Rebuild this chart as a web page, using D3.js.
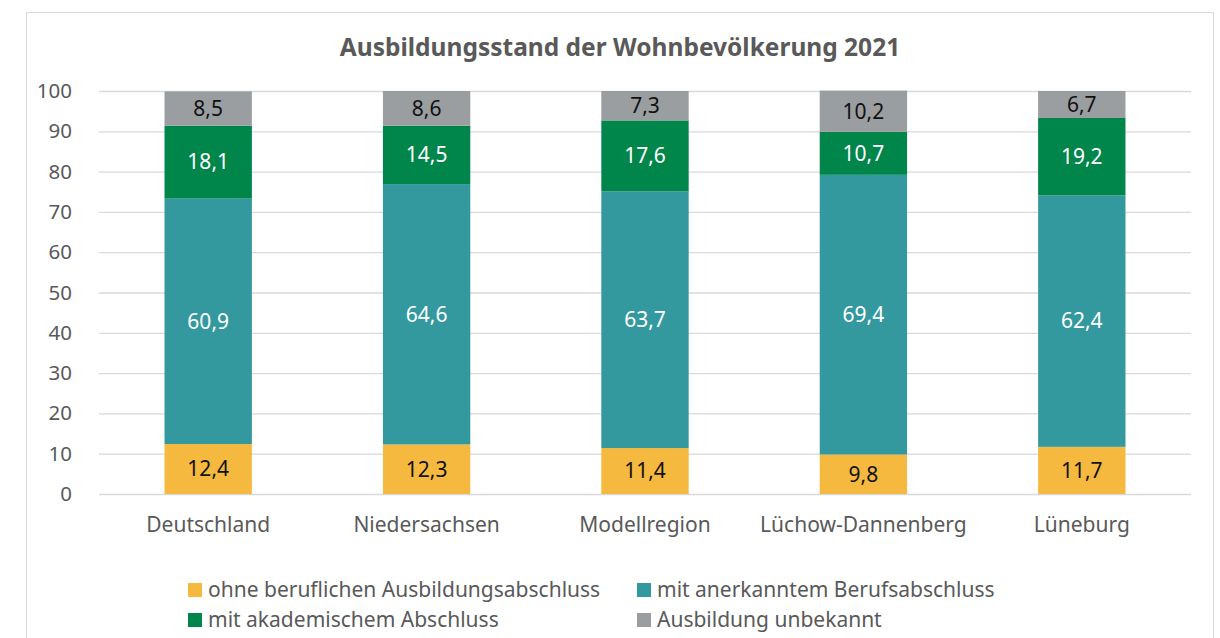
<!DOCTYPE html>
<html>
<head>
<meta charset="utf-8">
<script src="https://cdn.jsdelivr.net/npm/d3@7"></script>
<style>
  body { margin: 0; background: #fff; }
  svg { display: block; font-family: "Noto Sans", "Open Sans", sans-serif; }
</style>
</head>
<body>
<svg></svg>
<script>
const categories = ["Deutschland", "Niedersachsen", "Modellregion", "Lüchow-Dannenberg", "Lüneburg"];
const seriesNames = [
    "ohne beruflichen Ausbildungsabschluss",
    "mit anerkanntem Berufsabschluss",
    "mit akademischem Abschluss",
    "Ausbildung unbekannt"
];
const ohneAbschluss = [12.4, 12.3, 11.4, 9.8, 11.7];
const berufsabschluss = [60.9, 64.6, 63.7, 69.4, 62.4];
const akademisch = [18.1, 14.5, 17.6, 10.7, 19.2];
const unbekannt = [8.5, 8.6, 7.3, 10.2, 6.7];
const yTicks = [0, 10, 20, 30, 40, 50, 60, 70, 80, 90, 100];

const colors = ["#f4b93e", "#33999f", "#00854a", "#9a9ea1"];
const labelColors = ["#111", "#fff", "#fff", "#111"];

const svg = d3.select("svg")
    .attr("width", 1220)
    .attr("height", 638);

// chart frame
svg.append("rect")
    .attr("x", 26.5).attr("y", 12.5)
    .attr("width", 1187).attr("height", 640)
    .attr("fill", "none")
    .attr("stroke", "#d9d9d9");

const margin = { top: 91, left: 99 };
const width = 1092;
const height = 403;

const g = svg.append("g")
    .attr("transform", `translate(${margin.left},${margin.top})`);

svg.append("text")
    .attr("x", 620).attr("y", 56)
    .attr("text-anchor", "middle")
    .attr("font-size", 24.5).attr("font-weight", "bold")
    .attr("fill", "#595959")
    .text("Ausbildungsstand der Wohnbevölkerung 2021");

const data = categories.map((c, i) => ({
    cat: c,
    s0: ohneAbschluss[i], s1: berufsabschluss[i], s2: akademisch[i], s3: unbekannt[i]
}));
const keys = ["s0", "s1", "s2", "s3"];
const stacked = d3.stack().keys(keys)(data);

const x = d3.scaleBand()
    .domain(categories)
    .range([0, width])
    .paddingInner(0.6)
    .paddingOuter(0.3);

const y = d3.scaleLinear()
    .domain([0, 100])
    .range([height, 0]);

// gridlines
g.append("g")
    .selectAll("line")
    .data(yTicks)
    .enter()
    .append("line")
    .attr("x1", 0).attr("x2", width)
    .attr("y1", d => y(d) + 0.5).attr("y2", d => y(d) + 0.5)
    .attr("stroke", "#d9d9d9")
    .attr("stroke-width", 1.3);

const yAxis = g.append("g")
    .call(d3.axisLeft(y).tickValues(yTicks).tickSize(0).tickPadding(27));
yAxis.select(".domain").remove();
yAxis.selectAll("text")
    .attr("font-size", 20.5)
    .attr("font-family", "Noto Sans")
    .attr("fill", "#595959");

const xAxis = g.append("g")
    .attr("transform", `translate(0,${height})`)
    .call(d3.axisBottom(x).tickSize(0).tickPadding(23));
xAxis.select(".domain").remove();
xAxis.selectAll("text")
    .attr("font-size", 21)
    .attr("font-family", "Noto Sans")
    .attr("fill", "#595959");

const layers = g.selectAll(".layer")
    .data(stacked)
    .enter()
    .append("g")
    .attr("class", "layer")
    .attr("fill", (d, i) => colors[i]);

layers.selectAll("rect")
    .data(d => d)
    .enter()
    .append("rect")
    .attr("x", d => x(d.data.cat))
    .attr("y", d => y(d[1]))
    .attr("width", x.bandwidth())
    .attr("height", d => y(d[0]) - y(d[1]));

stacked.forEach((layer, i) => {
    g.append("g")
        .selectAll("text")
        .data(layer)
        .enter()
        .append("text")
        .attr("x", d => x(d.data.cat) + x.bandwidth() / 2)
        .attr("y", d => (y(d[0]) + y(d[1])) / 2)
        .attr("dy", "0.35em")
        .attr("text-anchor", "middle")
        .attr("font-size", 21)
        .attr("fill", labelColors[i])
        .text(d => d3.format(".1f")(d[1] - d[0]).replace(".", ","));
});

// legend
const legendPos = [[188, 590], [637, 590], [188, 620], [637, 620]];
const legend = svg.append("g");
seriesNames.forEach((name, s) => {
    const [lx, ly] = legendPos[s];
    legend.append("rect")
        .attr("x", lx).attr("y", ly - 7)
        .attr("width", 14).attr("height", 14)
        .attr("fill", colors[s]);
    legend.append("text")
        .attr("x", lx + 20).attr("y", ly)
        .attr("dy", "0.35em")
        .attr("font-size", 21)
        .attr("fill", "#595959")
        .text(name);
});
</script>
</body>
</html>
